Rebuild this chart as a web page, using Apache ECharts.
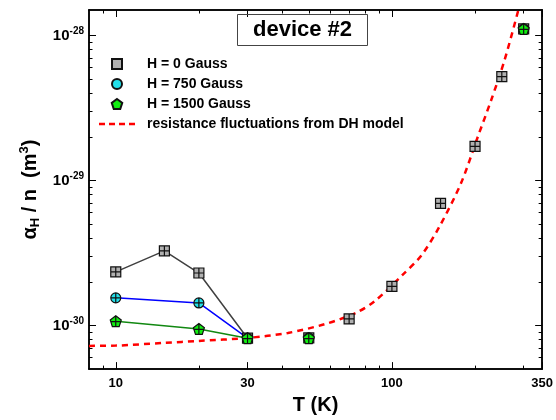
<!DOCTYPE html>
<html>
<head>
<meta charset="utf-8">
<title>device #2</title>
<script src="https://cdn.jsdelivr.net/npm/echarts@6/dist/echarts.min.js"></script>
<style>
  html, body { margin: 0; padding: 0; background: #fff; }
  #chart { width: 556px; height: 420px; }
</style>
</head>
<body>
<div id="chart"></div>
<script>
"use strict";

// temperature (K) and alpha_H / n (m^3)
var tempH0 = [10, 15, 20, 30, 50, 70, 100, 150, 200, 250, 300];
var alphaH0 = [2.34e-30, 3.27e-30, 2.30e-30, 8.17e-31, 8.2e-31, 1.11e-30, 1.86e-30, 6.95e-30, 1.72e-29, 5.21e-29, 1.11e-28];
var tempH750 = [10, 20, 30, 50, 300];
var alphaH750 = [1.55e-30, 1.43e-30, 8.17e-31, 8.2e-31, 1.11e-28];
var tempH1500 = [10, 20, 30, 50, 300];
var alphaH1500 = [1.07e-30, 9.46e-31, 8.17e-31, 8.17e-31, 1.11e-28];
// only the points up to 30 K are joined by lines
var linkedH0 = 4;
var linkedH750 = 3;
var linkedH1500 = 3;

// DH model curve
var tempDH = [8, 10, 15, 20, 30, 42, 57, 74, 87, 110, 128, 149, 178, 205, 229, 256, 287];
var alphaDH = [7.23e-31, 7.26e-31, 7.59e-31, 7.82e-31, 8.2e-31, 8.88e-31, 1.02e-30, 1.22e-30, 1.48e-30,
  2.26e-30, 3.05e-30, 4.85e-30, 9.6e-30, 2.02e-29, 3.6e-29, 6.8e-29, 1.5e-28];

// axes
var tempRange = [8, 350];
var alphaRange = [5e-31, 1.5e-28];
var tempLabels = [10, 30, 100, 350];
var tempMinor = [9, 20, 40, 50, 60, 70, 80, 90, 200, 300];
var alphaDecades = [-30, -29, -28];

var lg = Math.log10;

function pairs(xs, ys, n) {
  var out = [];
  var len = n || xs.length;
  for (var i = 0; i < len; i++) out.push([lg(xs[i]), lg(ys[i])]);
  return out;
}

var alphaMinor = [];
[-31, -30, -29].forEach(function (d) {
  for (var k = 2; k <= 9; k++) {
    var v = lg(k) + d;
    if (v > lg(alphaRange[0]) + 1e-6 && v < lg(alphaRange[1])) alphaMinor.push(v);
  }
});

var FONT = "Liberation Sans, Arial, sans-serif";
var SQUARE = "path://M0,0L10,0L10,10L0,10Z";
var PENT = "path://M5,0L10,3.63L8.09,9.51L1.91,9.51L0,3.63Z";
var DASH = "path://M0,0L6,0L6,2.6L0,2.6Z M10,0L16,0L16,2.6L10,2.6Z M20,0L26,0L26,2.6L20,2.6Z M30,0L36,0L36,2.6L30,2.6Z";
var SQUARE_X = "path://M0,0L10,0L10,10L0,10Z M5,0L5,10 M0,5L10,5";
var CIRCLE_X = "path://M0,5A5,5,0,1,1,10,5A5,5,0,1,1,0,5Z M5,0L5,10 M0,5L10,5";
var PENT_X = "path://M5,0L10,3.63L8.09,9.51L1.91,9.51L0,3.63Z M5,0L5,9.51 M0.6,5.2L9.4,5.2";

function xAxisDef(pos, ticks, len, labels) {
  return {
    type: "value",
    position: pos,
    min: lg(tempRange[0]),
    max: lg(tempRange[1]),
    axisLine: { show: true, onZero: false, lineStyle: { color: "#000", width: 1.5 } },
    axisTick: { show: true, inside: true, length: len, customValues: ticks.map(lg), lineStyle: { color: "#000", width: 1 } },
    axisLabel: labels ? {
      show: true, customValues: tempLabels.map(lg), margin: 8,
      color: "#000", fontFamily: FONT, fontWeight: "bold", fontSize: 13,
      formatter: function (v) { return String(Math.round(Math.pow(10, v))); }
    } : { show: false },
    splitLine: { show: false }
  };
}

function yAxisDef(pos, ticks, len, labels) {
  return {
    type: "value",
    position: pos,
    min: lg(alphaRange[0]),
    max: lg(alphaRange[1]),
    axisLine: { show: true, onZero: false, lineStyle: { color: "#000", width: 1.5 } },
    axisTick: { show: true, inside: true, length: len, customValues: ticks, lineStyle: { color: "#000", width: 1 } },
    axisLabel: labels ? {
      show: true, customValues: alphaDecades, margin: 5,
      formatter: function (v) { return "{b|10}{s|" + Math.round(v) + "}"; },
      rich: {
        b: { fontFamily: FONT, fontWeight: "bold", fontSize: 15, color: "#000" },
        s: { fontFamily: FONT, fontWeight: "bold", fontSize: 10, color: "#000", padding: [0, 0, 9, 0] }
      }
    } : { show: false },
    splitLine: { show: false }
  };
}

var xMain = xAxisDef("bottom", tempLabels, 7, true);
xMain.name = "T (K)";
xMain.nameLocation = "middle";
xMain.nameGap = 22;
xMain.nameTextStyle = { fontFamily: FONT, fontWeight: "bold", fontSize: 20, color: "#000" };

var yMain = yAxisDef("left", alphaDecades, 7, true);
yMain.name = "{a|α}{sub|H}{a| / n  (m}{sup|3}{a|)}";
yMain.nameLocation = "middle";
yMain.nameGap = 46;
yMain.nameTextStyle = {
  rich: {
    a: { fontFamily: FONT, fontWeight: "bold", fontSize: 20, color: "#000" },
    sub: { fontFamily: FONT, fontWeight: "bold", fontSize: 13, color: "#000", padding: [10, 0, 0, 0] },
    sup: { fontFamily: FONT, fontWeight: "bold", fontSize: 13, color: "#000", padding: [0, 0, 12, 0] }
  }
};

var chart = echarts.init(document.getElementById("chart"), null, { renderer: "canvas" });

var option = {
  animation: false,
  backgroundColor: "#fff",
  title: {
    text: "device #2",
    left: 237,
    top: 14,
    padding: [5, 16, 5, 16],
    borderWidth: 1,
    borderColor: "#444",
    textStyle: { fontFamily: FONT, fontWeight: "bold", fontSize: 22, color: "#000" }
  },
  legend: {
    orient: "vertical",
    left: 99,
    top: 57,
    padding: 0,
    itemWidth: 36,
    itemHeight: 10,
    itemGap: 6,
    textStyle: { fontFamily: FONT, fontWeight: "bold", fontSize: 14, color: "#000", padding: [0, 0, 0, 7] },
    data: [
      { name: "H = 0 Gauss", icon: SQUARE },
      { name: "H = 750 Gauss", icon: "circle" },
      { name: "H = 1500 Gauss", icon: PENT },
      { name: "resistance fluctuations from DH model", icon: DASH }
    ]
  },
  grid: { left: 89, right: 11, top: 10, bottom: 50 },
  xAxis: [
    xMain,
    xAxisDef("bottom", tempMinor, 3.5, false),
    xAxisDef("top", tempLabels, 7, false),
    xAxisDef("top", tempMinor, 3.5, false)
  ],
  yAxis: [
    yMain,
    yAxisDef("left", alphaMinor, 3.5, false),
    yAxisDef("right", alphaDecades, 7, false),
    yAxisDef("right", alphaMinor, 3.5, false)
  ],
  series: [
    {
      name: "resistance fluctuations from DH model",
      type: "line",
      smooth: 0.3,
      symbol: "none",
      z: 1,
      lineStyle: { color: "#ff0000", width: 2.5, type: [6, 5] },
      itemStyle: { color: "#ff0000" },
      data: pairs(tempDH, alphaDH)
    },
    {
      name: "H0 link",
      type: "line",
      symbol: "none",
      z: 2,
      lineStyle: { color: "#404040", width: 1.5 },
      data: pairs(tempH0, alphaH0, linkedH0)
    },
    {
      name: "H750 link",
      type: "line",
      symbol: "none",
      z: 2,
      lineStyle: { color: "#0000ff", width: 1.5 },
      data: pairs(tempH750, alphaH750, linkedH750)
    },
    {
      name: "H1500 link",
      type: "line",
      symbol: "none",
      z: 2,
      lineStyle: { color: "#118811", width: 1.5 },
      data: pairs(tempH1500, alphaH1500, linkedH1500)
    },
    {
      name: "H = 0 Gauss",
      type: "scatter",
      symbol: SQUARE_X,
      symbolSize: 10,
      z: 3,
      itemStyle: { color: "#b0b0b0", borderColor: "#111", borderWidth: 1.2, opacity: 1 },
      data: pairs(tempH0, alphaH0)
    },
    {
      name: "H = 750 Gauss",
      type: "scatter",
      symbol: CIRCLE_X,
      symbolSize: 10,
      z: 3,
      itemStyle: { color: "#22e0ea", borderColor: "#111", borderWidth: 1.2, opacity: 1 },
      data: pairs(tempH750, alphaH750)
    },
    {
      name: "H = 1500 Gauss",
      type: "scatter",
      symbol: PENT_X,
      symbolSize: 11,
      z: 3,
      itemStyle: { color: "#11ee11", borderColor: "#111", borderWidth: 1.2, opacity: 1 },
      data: pairs(tempH1500, alphaH1500)
    }
  ]
};

chart.setOption(option);
</script>
</body>
</html>
